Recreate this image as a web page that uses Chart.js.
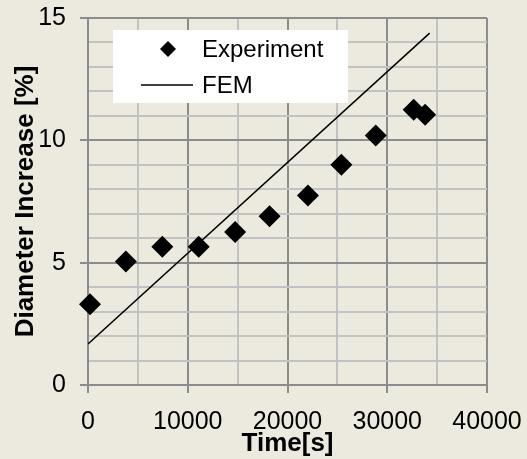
<!DOCTYPE html>
<html>
<head>
<meta charset="utf-8">
<script src="https://cdn.jsdelivr.net/npm/chart.js@4/dist/chart.umd.min.js"></script>
<style>
  html, body { margin: 0; padding: 0; background: #ECE9DF; }
  #wrap { width: 527px; height: 459px; }
</style>
</head>
<body>
<div id="wrap"><canvas id="chart" width="527" height="459"></canvas></div>
<script>
// Datos medidos
const expTime = [200, 3800, 7450, 11100, 14750, 18200, 22050, 25400, 28850, 32650, 33800];
const expDiam = [3.3, 5.05, 5.65, 5.65, 6.25, 6.9, 7.75, 9.0, 10.2, 11.25, 11.05];

// Simulación FEM (recta)
const femTime = [0, 34250];
const femDiam = [1.68, 14.38];

const FONT = '"Liberation Sans", Arial, sans-serif';
const MAJOR = '#8c8c8c';
const MINOR = '#c2c2c2';

// Leyenda dentro del área del gráfico
const boxLegend = {
  id: 'boxLegend',
  afterDraw(chart) {
    const ctx = chart.ctx;
    const a = chart.chartArea;
    const x0 = a.left + 25, y0 = a.top + 12;
    ctx.save();
    ctx.fillStyle = '#ffffff';
    ctx.fillRect(x0, y0, 235, 73);
    const exp = chart.data.datasets[0];
    const fem = chart.data.datasets[1];
    // rombo
    ctx.fillStyle = exp.backgroundColor;
    ctx.beginPath();
    const cx = x0 + 55, cy = y0 + 19, r = 8;
    ctx.moveTo(cx, cy - r); ctx.lineTo(cx + r, cy); ctx.lineTo(cx, cy + r); ctx.lineTo(cx - r, cy);
    ctx.closePath(); ctx.fill();
    // linea
    ctx.strokeStyle = fem.borderColor;
    ctx.lineWidth = 1.5;
    ctx.beginPath();
    ctx.moveTo(x0 + 28, y0 + 55); ctx.lineTo(x0 + 80, y0 + 55);
    ctx.stroke();
    ctx.fillStyle = '#000';
    ctx.font = '24px ' + FONT;
    ctx.textBaseline = 'middle';
    ctx.fillText(exp.label, x0 + 89, cy + 1);
    ctx.fillText(fem.label, x0 + 89, y0 + 56);
    ctx.restore();
  }
};

const ctx = document.getElementById('chart').getContext('2d');
new Chart(ctx, {
  type: 'scatter',
  data: {
    datasets: [{
      label: 'Experiment',
      data: expTime.map((t, i) => ({ x: t, y: expDiam[i] })),
      pointStyle: 'rectRot',
      pointRadius: 11,
      pointBorderWidth: 0,
      backgroundColor: '#000000',
      borderColor: '#000000',
      clip: false,
      order: 1
    }, {
      label: 'FEM',
      type: 'line',
      data: femTime.map((t, i) => ({ x: t, y: femDiam[i] })),
      borderColor: '#000000',
      borderWidth: 1.5,
      pointRadius: 0,
      fill: false,
      order: 2
    }]
  },
  options: {
    responsive: false,
    animation: false,
    layout: { padding: 0 },
    plugins: {
      legend: { display: false },
      tooltip: { enabled: false }
    },
    scales: {
      x: {
        type: 'linear',
        min: 0, max: 40000,
        afterFit: s => { s.height = 74; s.paddingRight = 40; },
        border: { color: MAJOR, width: 2 },
        grid: {
          lineWidth: 2,
          color: c => (c.tick && c.tick.value % 10000 === 0) ? MAJOR : MINOR,
          tickColor: c => (c.tick && c.tick.value % 10000 === 0) ? MAJOR : 'rgba(0,0,0,0)',
          tickLength: 8
        },
        ticks: {
          stepSize: 5000,
          autoSkip: false,
          maxRotation: 0,
          padding: 14,
          color: '#000',
          font: { family: FONT, size: 25 },
          callback: v => (v % 10000 === 0 ? String(v) : '')
        },
        title: {
          display: true,
          text: 'Time[s]',
          color: '#000',
          font: { family: FONT, size: 26, weight: 'bold' },
          padding: { top: -13, bottom: 0 }
        }
      },
      y: {
        type: 'linear',
        min: 0, max: 15,
        afterFit: s => { s.width = 88; s.paddingTop = 18; },
        border: { color: MAJOR, width: 2 },
        grid: {
          lineWidth: 2,
          color: c => (c.tick && c.tick.value % 5 === 0) ? MAJOR : MINOR,
          tickColor: c => (c.tick && c.tick.value % 5 === 0) ? MAJOR : 'rgba(0,0,0,0)',
          tickLength: 8
        },
        ticks: {
          stepSize: 1,
          autoSkip: false,
          padding: 14,
          color: '#000',
          font: { family: FONT, size: 25 },
          callback: v => (v % 5 === 0 ? String(v) : '')
        },
        title: {
          display: true,
          text: 'Diameter Increase [%]',
          color: '#000',
          font: { family: FONT, size: 26, weight: 'bold' },
          padding: { top: 10, bottom: 0 }
        }
      }
    }
  },
  plugins: [boxLegend]
});
</script>
</body>
</html>
